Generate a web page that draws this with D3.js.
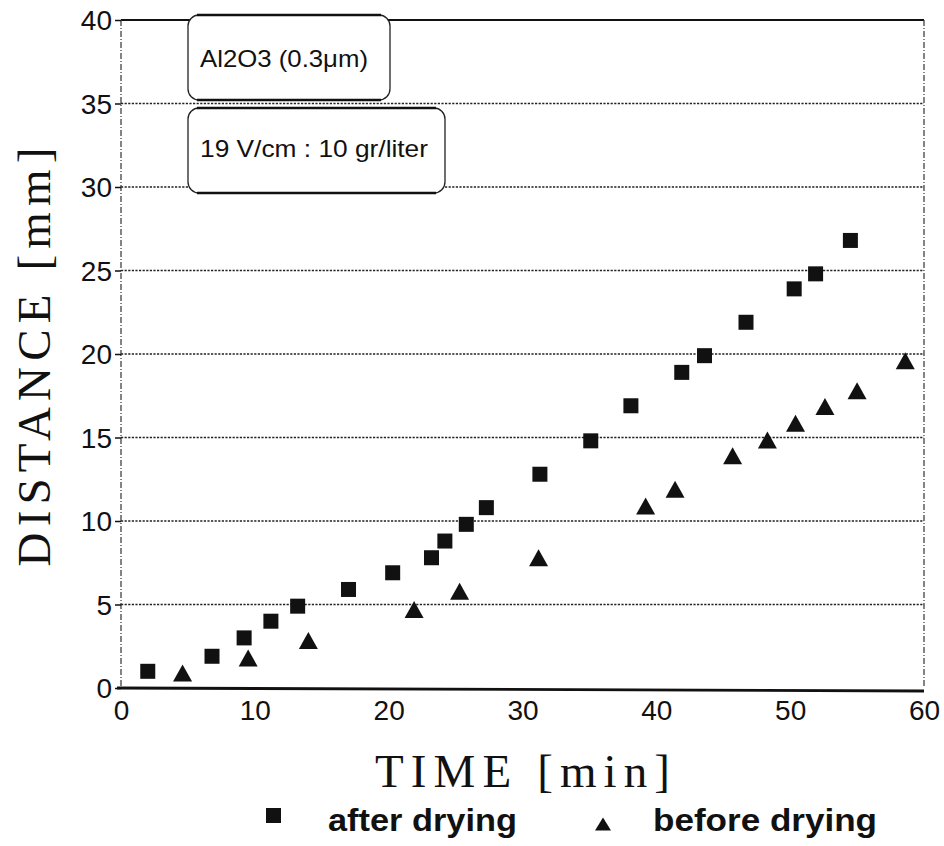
<!DOCTYPE html>
<html>
<head>
<meta charset="utf-8">
<script src="https://cdn.jsdelivr.net/npm/d3@7"></script>
<style>
  html, body { margin: 0; padding: 0; background: #fff; }
  svg { display: block; }
</style>
</head>
<body>
<svg id="chart" width="944" height="846"></svg>
<script>
// Migration distance of the Al2O3 deposit front versus time
const timeAfter = [2.0, 6.8, 9.2, 11.2, 13.2, 17.0, 20.3, 23.2, 24.2, 25.8, 27.3, 31.3, 35.1, 38.1, 41.9, 43.6, 46.7, 50.3, 51.9, 54.5];
const distAfter = [1.0, 1.9, 3.0, 4.0, 4.9, 5.9, 6.9, 7.8, 8.8, 9.8, 10.8, 12.8, 14.8, 16.9, 18.9, 19.9, 21.9, 23.9, 24.8, 26.8];
const timeBefore = [4.6, 9.5, 14.0, 21.9, 25.3, 31.2, 39.2, 41.4, 45.7, 48.3, 50.4, 52.6, 55.0, 58.6];
const distBefore = [0.9, 1.8, 2.85, 4.7, 5.8, 7.8, 10.9, 11.9, 13.9, 14.85, 15.85, 16.85, 17.8, 19.6];
const xTicks = [0, 10, 20, 30, 40, 50, 60];
const yTicks = [0, 5, 10, 15, 20, 25, 30, 35, 40];
const gridValues = [5, 10, 15, 20, 25, 30, 35];
const noteLines = ["Al2O3 (0.3μm)", "19 V/cm : 10 gr/liter"];
const seriesNames = ["after drying", "before drying"];

const svg = d3.select("#chart");
const x = d3.scaleLinear().domain([0, 60]).range([121, 924]);
const y = d3.scaleLinear().domain([0, 40]).range([688, 20]);
const ink = "#111";
const sans = "'Liberation Sans', Arial, Helvetica, sans-serif";
const serif = "'Liberation Serif', 'Times New Roman', serif";

// dotted horizontal grid
svg.append("g").selectAll("line").data(gridValues).join("line")
  .attr("x1", x(0)).attr("x2", x(60))
  .attr("y1", d => y(d)).attr("y2", d => y(d))
  .attr("stroke", "#222").attr("stroke-width", 1.6)
  .attr("stroke-dasharray", "2.2,1.4");

// frame: solid top and bottom, dashed sides
svg.append("line").attr("x1", x(0)).attr("x2", x(60)).attr("y1", y(40)).attr("y2", y(40))
  .attr("stroke", ink).attr("stroke-width", 2.2);
svg.append("line").attr("x1", x(0) - 4).attr("x2", x(60)).attr("y1", y(0)).attr("y2", y(0) + 3)
  .attr("stroke", ink).attr("stroke-width", 2.8);
[0, 60].forEach(v => {
  svg.append("line").attr("x1", x(v)).attr("x2", x(v)).attr("y1", y(40)).attr("y2", y(0))
    .attr("stroke", "#333").attr("stroke-width", 1.2).attr("stroke-dasharray", "6,2,1,2");
});

// y axis labels with short dash ticks
const yAxis = d3.axisLeft(y).tickValues(yTicks).tickSize(6).tickPadding(3).tickFormat(d3.format("d"));
const gy = svg.append("g").attr("transform", `translate(${x(0)},0)`).call(yAxis);
gy.select(".domain").remove();
gy.selectAll(".tick line").attr("stroke", ink).attr("stroke-width", 1.5);
gy.selectAll(".tick text").attr("font-family", sans).attr("font-size", 28).attr("fill", ink)
  .attr("dy", "0.34em");

// x axis labels
const xAxis = d3.axisBottom(x).tickValues(xTicks).tickSize(0).tickPadding(12).tickFormat(d3.format("d"));
const gx = svg.append("g").attr("transform", `translate(0,${y(0)})`).call(xAxis);
gx.select(".domain").remove();
gx.selectAll(".tick text").attr("font-family", sans).attr("font-size", 28).attr("fill", ink);

// axis titles
svg.append("text").attr("x", x(30)).attr("y", 787)
  .attr("text-anchor", "middle").attr("font-family", serif).attr("font-size", 47)
  .attr("textLength", 295).attr("lengthAdjust", "spacing").attr("fill", ink)
  .text("TIME [min]");
svg.append("text").attr("transform", "translate(50,357) rotate(-90)")
  .attr("text-anchor", "middle").attr("font-family", serif).attr("font-size", 47)
  .attr("textLength", 419).attr("lengthAdjust", "spacing").attr("fill", ink)
  .text("DISTANCE [mm]");

// annotation boxes
const boxes = [
  { x0: 188, x1: 390, y0: 15, y1: 100, tx: 200, ty: 67, w: 168 },
  { x0: 188, x1: 445, y0: 108, y1: 193, tx: 200, ty: 157, w: 228 }
];
boxes.forEach((b, i) => {
  svg.append("rect").attr("x", b.x0).attr("y", b.y0).attr("width", b.x1 - b.x0).attr("height", b.y1 - b.y0)
    .attr("rx", 11).attr("fill", "#fff").attr("stroke", "#222").attr("stroke-width", 1.3);
  [b.y0, b.y1].forEach(yy => svg.append("line").attr("x1", b.x0 + 9).attr("x2", b.x1 - 9)
    .attr("y1", yy).attr("y2", yy).attr("stroke", ink).attr("stroke-width", 2.4));
  svg.append("text").attr("x", b.tx).attr("y", b.ty).attr("font-family", sans).attr("font-size", 24)
    .attr("textLength", b.w).attr("lengthAdjust", "spacingAndGlyphs").attr("fill", ink).text(noteLines[i]);
});

// marker shapes
const sq = 15, triW = 19, triH = 17;
const triPath = (w, h) => d3.line()([[0, -h / 2], [w / 2, h / 2], [-w / 2, h / 2]]) + "Z";

svg.append("g").selectAll("rect").data(d3.zip(timeAfter, distAfter)).join("rect")
  .attr("x", d => x(d[0]) - sq / 2).attr("y", d => y(d[1]) - sq / 2)
  .attr("width", sq).attr("height", sq).attr("fill", ink);

svg.append("g").selectAll("path").data(d3.zip(timeBefore, distBefore)).join("path")
  .attr("transform", d => `translate(${x(d[0])},${y(d[1])})`)
  .attr("d", triPath(triW, triH)).attr("fill", ink);

// legend
svg.append("rect").attr("x", 266).attr("y", 808).attr("width", 15).attr("height", 15).attr("fill", ink);
svg.append("path").attr("transform", "translate(603,824)").attr("d", triPath(16, 13)).attr("fill", ink);
svg.append("text").attr("x", 328).attr("y", 831).attr("font-family", sans).attr("font-weight", "bold")
  .attr("font-size", 32).attr("textLength", 189).attr("lengthAdjust", "spacingAndGlyphs").attr("fill", ink)
  .text(seriesNames[0]);
svg.append("text").attr("x", 653).attr("y", 831).attr("font-family", sans).attr("font-weight", "bold")
  .attr("font-size", 32).attr("textLength", 224).attr("lengthAdjust", "spacingAndGlyphs").attr("fill", ink)
  .text(seriesNames[1]);
</script>
</body>
</html>
